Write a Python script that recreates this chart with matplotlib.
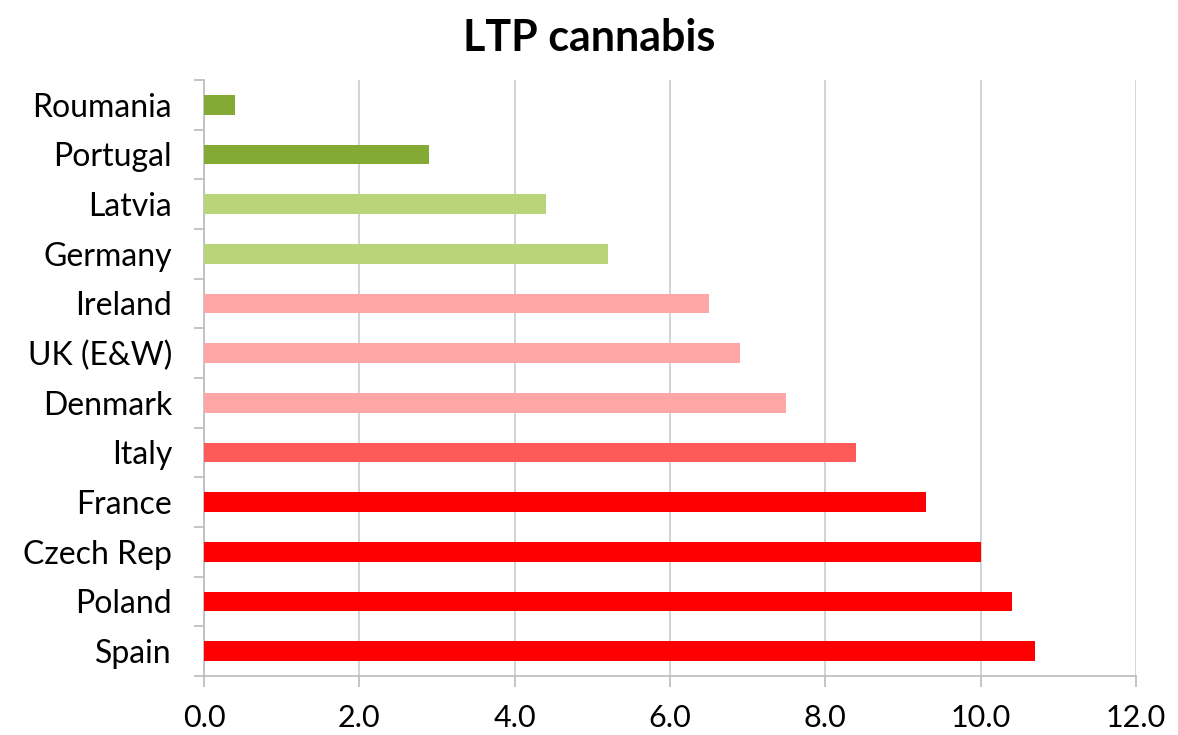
import matplotlib
matplotlib.use("Agg")
import matplotlib.pyplot as plt
import numpy as np

countries = ["Roumania", "Portugal", "Latvia", "Germany", "Ireland", "UK (E&W)",
             "Denmark", "Italy", "France", "Czech Rep", "Poland", "Spain"]
values = [0.4, 2.9, 4.4, 5.2, 6.5, 6.9, 7.5, 8.4, 9.3, 10.0, 10.4, 10.7]
colors = ["#84A934", "#84A934", "#B8D57A", "#B8D57A", "#FFA6A6", "#FFA6A6",
          "#FFA6A6", "#FF5A5A", "#FF0000", "#FF0000", "#FF0000", "#FF0000"]
xticks = [0, 2, 4, 6, 8, 10, 12]

plt.rcParams["font.family"] = ["Lato", "DejaVu Sans"]

fig = plt.figure(figsize=(11.78, 7.35), dpi=100)
ax = fig.add_axes([0.1732, 0.0803, 0.7911, 0.8109])

y = np.arange(len(countries))
ax.barh(y, values, height=0.4, color=colors, zorder=3)

ax.set_ylim(len(countries) - 0.5, -0.5)
ax.set_xlim(0, 12)
ax.set_yticks(y)
ax.set_yticklabels(countries, fontsize=23)
ax.set_yticks(np.arange(-0.5, len(countries), 1), minor=True)
ax.tick_params(axis="y", which="major", length=0, pad=23)
ax.tick_params(axis="y", which="minor", length=7, color="#BBBBBB", width=1.2)

ax.set_xticks(xticks)
ax.set_xticklabels([f"{v:.1f}" for v in xticks], fontsize=22)
ax.tick_params(axis="x", length=8, color="#BBBBBB", width=1.2, pad=12)
ax.grid(True, axis="x", color="#D0D0D0", linewidth=1.3, zorder=0)

for s in ["top", "right"]:
    ax.spines[s].set_visible(False)
for s in ["left", "bottom"]:
    ax.spines[s].set_color("#BBBBBB")
    ax.spines[s].set_linewidth(1.2)

fig.suptitle("LTP cannabis", fontsize=31, fontweight="bold", y=0.975)

fig.savefig("out.png", dpi=100)
